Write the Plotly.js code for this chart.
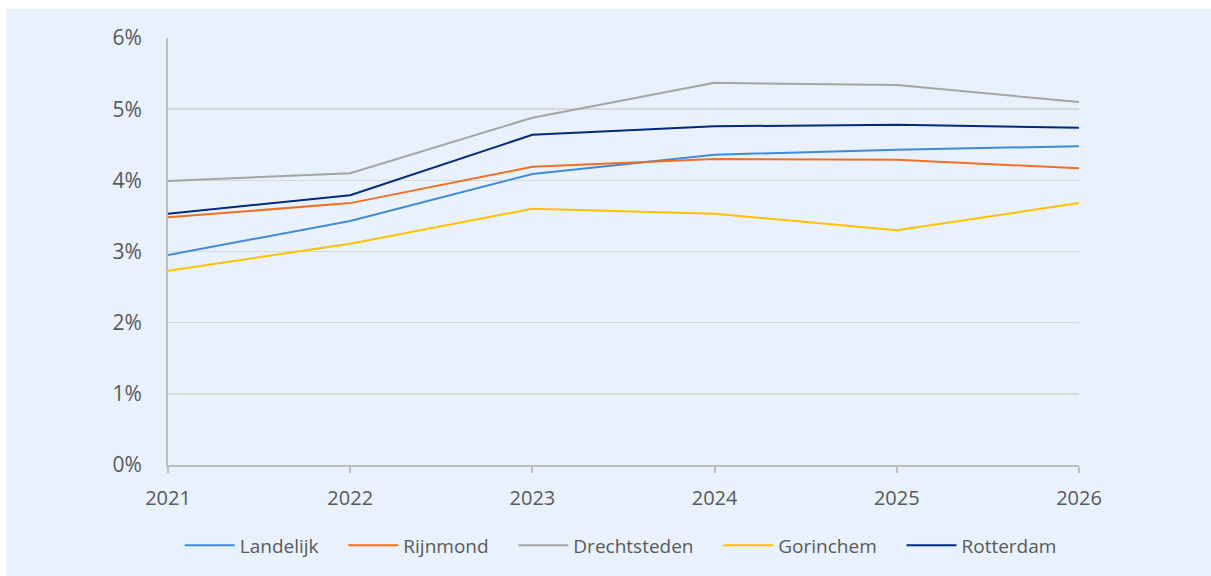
<!DOCTYPE html>
<html><head><meta charset="utf-8">
<script src="https://cdn.plot.ly/plotly-3.0.1.min.js"></script>
<style>
html,body{margin:0;padding:0;background:#ffffff;}
#chart{position:absolute;left:6px;top:9px;width:1205px;height:567px;}
</style></head>
<body><div id="chart"></div>
<script>
const years = [2021, 2022, 2023, 2024, 2025, 2026];
const yTicks = [0, 1, 2, 3, 4, 5, 6];
const yTickLabels = ["0%", "1%", "2%", "3%", "4%", "5%", "6%"];
const landelijk    = [2.95, 3.43, 4.09, 4.36, 4.43, 4.48];
const rijnmond     = [3.48, 3.68, 4.19, 4.30, 4.29, 4.17];
const drechtsteden = [3.99, 4.10, 4.88, 5.37, 5.34, 5.10];
const gorinchem    = [2.73, 3.11, 3.60, 3.53, 3.30, 3.68];
const rotterdam    = [3.53, 3.79, 4.64, 4.76, 4.78, 4.74];
const names  = ["Landelijk", "Rijnmond", "Drechtsteden", "Gorinchem", "Rotterdam"];
const colors = ["#418ad8", "#f0701f", "#a5a5a5", "#ffc000", "#002a7c"];
const series = [landelijk, rijnmond, drechtsteden, gorinchem, rotterdam];

const pad = "\u00a0\u00a0\u00a0\u00a0";
const traces = series.map((s, i) => ({
  x: years, y: s, name: names[i] + (i < names.length - 1 ? pad : ""), type: "scatter", mode: "lines",
  line: {color: colors[i], width: 2}
}));

const fam = "Open Sans, Noto Sans, sans-serif";
const layout = {
  paper_bgcolor: "#e9f1fd", plot_bgcolor: "#e9f1fd",
  margin: {l: 162, r: 132, t: 29, b: 111},
  showlegend: true,
  legend: {orientation: "h", x: 0.497, xanchor: "center", y: -0.144, yanchor: "top",
           font: {family: fam, color: "#595959", size: 19}, itemwidth: 50, traceorder: "normal"},
  xaxis: {range: [2021, 2026], tickmode: "array", tickvals: years, ticktext: years.map(String),
          showgrid: false, zeroline: false, showline: true, linecolor: "#bfbfbf", linewidth: 2,
          ticks: "outside", ticklen: 6, tickcolor: "#bfbfbf", tickwidth: 2,
          ticklabelstandoff: 8,
          tickfont: {family: fam, color: "#595959", size: 20}, fixedrange: true},
  yaxis: {range: [0, 6], tickmode: "array", tickvals: yTicks, ticktext: yTickLabels,
          showgrid: true, gridcolor: "#d9d9d9", gridwidth: 1.5, zeroline: false,
          showline: true, linecolor: "#bfbfbf", linewidth: 2, ticks: "",
          ticklabelstandoff: 20,
          tickfont: {family: fam, color: "#595959", size: 21}, fixedrange: true},
  font: {family: fam, color: "#595959"}
};
Plotly.newPlot("chart", traces, layout, {displayModeBar: false, staticPlot: true});
</script></body></html>
